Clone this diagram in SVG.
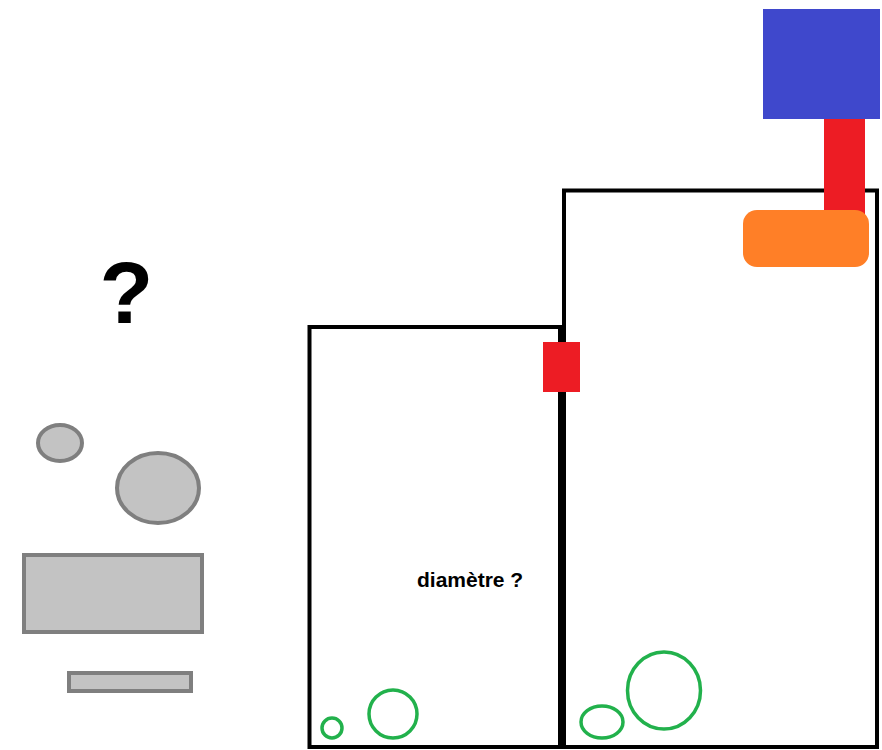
<svg xmlns="http://www.w3.org/2000/svg" width="882" height="750" viewBox="0 0 882 750">
<style>
.box{fill:none;stroke:#000;stroke-width:4}
.gray{fill:#c3c3c3;stroke:#7f7f7f;stroke-width:4}
.bub{fill:none;stroke:#22b14c;stroke-width:3.5}
.txt{font-family:"Liberation Sans",Arial,sans-serif;font-weight:bold;fill:#000}
</style>
<rect width="882" height="750" fill="#fff"/>
<g id="question">
<text class="txt" x="126.5" y="323" font-size="88" text-anchor="middle">?</text>
</g>
<g id="gray-parts">
<ellipse class="gray" cx="60" cy="443" rx="22" ry="18"/>
<ellipse class="gray" cx="158" cy="488" rx="41" ry="35"/>
<rect class="gray" x="24" y="555" width="178" height="77"/>
<rect class="gray" x="69" y="673" width="122" height="18"/>
</g>
<g id="left-box">
<rect class="box" x="309.5" y="327" width="250.5" height="420"/>
<text class="txt" x="417" y="587" font-size="21">diamètre ?</text>
<circle class="bub" cx="332" cy="728" r="10"/>
<circle class="bub" cx="393" cy="714" r="24"/>
</g>
<g id="right-box">
<rect class="box" x="564" y="190.5" width="313" height="556.5"/>
<ellipse class="bub" cx="602" cy="722" rx="21" ry="16"/>
<ellipse class="bub" cx="664" cy="690.5" rx="36.5" ry="38.5"/>
</g>
<g id="valve">
<rect x="543" y="342" width="37" height="50" fill="#ed1c24"/>
</g>
<g id="feeder">
<rect x="763" y="9" width="117" height="110" fill="#3f48cc"/>
<rect x="824" y="119" width="41" height="100" fill="#ed1c24"/>
<rect x="743" y="210" width="126" height="57" rx="14" fill="#ff7f27"/>
</g>
</svg>
